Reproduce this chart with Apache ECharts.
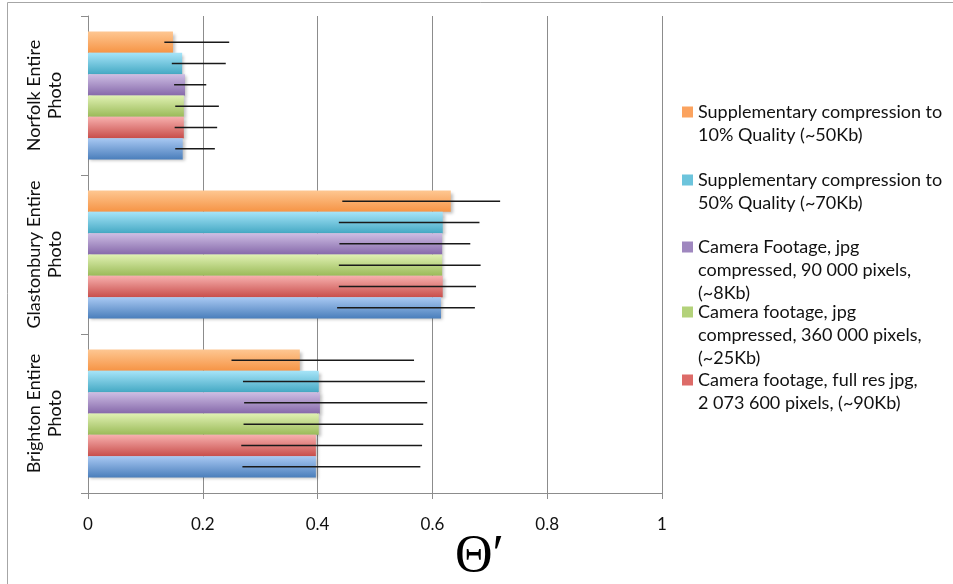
<!DOCTYPE html>
<html><head><meta charset="utf-8">
<script src="https://cdn.jsdelivr.net/npm/echarts@6/dist/echarts.min.js"></script>
<style>html,body{margin:0;padding:0;background:#fff}#c{width:953px;height:584px}</style>
</head><body><div id="c"></div>
<script>
// Categories bottom -> top
const categories = ['Brighton Entire\nPhoto', 'Glastonbury Entire\nPhoto', 'Norfolk Entire\nPhoto'];
const xTicks = [0, 0.2, 0.4, 0.6, 0.8, 1];
// series (bottom bar of each group first)
const seriesNames = [
  'Camera footage, original',
  'Camera footage, full res jpg,\n2 073 600 pixels, (~90Kb)',
  'Camera footage, jpg\ncompressed, 360 000 pixels,\n(~25Kb)',
  'Camera Footage, jpg\ncompressed, 90 000 pixels,\n(~8Kb)',
  'Supplementary compression to\n50% Quality (~70Kb)',
  'Supplementary compression to\n10% Quality (~50Kb)'
];
// values per series: [Brighton, Glastonbury, Norfolk]
const blueValues   = [0.397, 0.615, 0.165];
const redValues    = [0.397, 0.618, 0.167];
const greenValues  = [0.402, 0.617, 0.167];
const purpleValues = [0.404, 0.617, 0.169];
const cyanValues   = [0.402, 0.618, 0.164];
const orangeValues = [0.369, 0.632, 0.148];
// error bar extents [low, high] per category
const blueErr   = [[0.269, 0.579], [0.434, 0.674], [0.152, 0.221]];
const redErr    = [[0.267, 0.582], [0.437, 0.676], [0.151, 0.225]];
const greenErr  = [[0.271, 0.584], [0.437, 0.684], [0.152, 0.228]];
const purpleErr = [[0.272, 0.591], [0.438, 0.666], [0.150, 0.206]];
const cyanErr   = [[0.270, 0.587], [0.437, 0.682], [0.146, 0.240]];
const orangeErr = [[0.250, 0.568], [0.443, 0.718], [0.133, 0.246]];

const allValues = [blueValues, redValues, greenValues, purpleValues, cyanValues, orangeValues];
const allErr = [blueErr, redErr, greenErr, purpleErr, cyanErr, orangeErr];
const grads = [
  ['#a9c9f3', '#4a7ebb'],
  ['#f7b0ae', '#c84e4b'],
  ['#e0f1b3', '#9aba58'],
  ['#cebee4', '#8669aa'],
  ['#a6e4f8', '#45a9c4'],
  ['#fec792', '#f69445']
];
const legendColors = ['#4f81bd', '#dd6b68', '#b3d27a', '#9f87bf', '#6cc4dc', '#fba35f'];

const CAT_GAP = 0.195;
const FONT = 'Lato, "Open Sans", sans-serif';

const series = [];
// ECharts stacks horizontal bar series from the top of the group downward,
// so add the top bar (orange) first.
for (let i = allValues.length - 1; i >= 0; i--) {
  series.push({
    type: 'bar',
    name: seriesNames[i],
    data: allValues[i],
    barGap: '0%',
    barCategoryGap: (CAT_GAP * 100) + '%',
    itemStyle: {
      color: {type: 'linear', x: 0, y: 0, x2: 0, y2: 1, colorStops: [
        {offset: 0, color: grads[i][0]}, {offset: 1, color: grads[i][1]}]},
      shadowColor: 'rgba(0,0,0,0.25)', shadowBlur: 3, shadowOffsetX: 2, shadowOffsetY: 2
    },
    z: 2
  });
}
allErr.forEach((errs, i) => {
  series.push({
    type: 'custom',
    name: 'err' + i,
    data: errs.map((e, c) => [e[0], e[1], c]),
    renderItem: function (params, api) {
      const c = api.value(2);
      const p1 = api.coord([api.value(0), c]);
      const p2 = api.coord([api.value(1), c]);
      const band = api.size([0, 1])[1];
      const group = band * (1 - CAT_GAP);
      const bw = group / 6;
      const y = p1[1] + group / 2 - (i + 0.5) * bw;
      return {type: 'line', shape: {x1: p1[0], y1: y, x2: p2[0], y2: y},
        style: {stroke: '#1a1a1a', lineWidth: 1.5}};
    },
    encode: {x: [0, 1], y: 2},
    z: 5,
    silent: true
  });
});

const legendLines = [null, 2, 3, 3, 2, 2];
const legendFirstLineY = [null, 380, 312, 247, 180, 112];
const LH = 23;
const SQ = 11;
const legends = [];
for (let i = 5; i >= 1; i--) {
  const n = legendLines[i];
  const h = (n - 1) * LH + SQ;
  legends.push({
    data: [{name: seriesNames[i], itemStyle: {color: legendColors[i]}}],
    left: 682,
    top: legendFirstLineY[i] - LH / 2,
    padding: 0,
    icon: 'path://M0,0h' + SQ + 'v' + SQ + 'h-' + SQ + 'z M5,' + (h - 0.05) + 'h0.05v0.05h-0.05z',
    itemWidth: SQ, itemHeight: h,
    selectedMode: false,
    textStyle: {fontFamily: FONT, fontSize: 18, color: '#111', lineHeight: LH}
  });
}

const chart = echarts.init(document.getElementById('c'));
chart.setOption({
  animation: false,
  backgroundColor: '#fff',
  grid: {left: 88, right: 291, top: 16, bottom: 91, containLabel: false},
  legend: legends,
  xAxis: {
    type: 'value', min: 0, max: 1, interval: 0.2,
    axisLine: {show: true, lineStyle: {color: '#8c8c8c', width: 1}},
    axisTick: {show: true, length: 6, lineStyle: {color: '#8c8c8c'}},
    splitLine: {show: true, lineStyle: {color: '#8c8c8c', width: 1}},
    axisLabel: {fontFamily: FONT, fontSize: 17, color: '#111', margin: 23,
      formatter: v => String(Math.round(v * 10) / 10)}
  },
  yAxis: {
    type: 'category', data: categories,
    axisLine: {show: true, lineStyle: {color: '#8c8c8c', width: 1}},
    axisTick: {show: true, length: 7, lineStyle: {color: '#8c8c8c'}},
    splitLine: {show: false},
    axisLabel: {rotate: 90, interval: 0, fontFamily: FONT, fontSize: 18, color: '#111', margin: 22,
      lineHeight: 21, align: 'center', hideOverlap: false}
  },
  graphic: [
    {type: 'rect', shape: {x: 7.5, y: 2.5, width: 2000, height: 2000},
      style: {fill: 'none', stroke: '#a6a6a6', lineWidth: 1}, z: -10, silent: true},
    {type: 'text', left: 455, top: 531,
      style: {text: 'Θ′', font: '52px "Liberation Serif", "DejaVu Serif", serif', fill: '#000'}}
  ],
  series: series
});
</script></body></html>
